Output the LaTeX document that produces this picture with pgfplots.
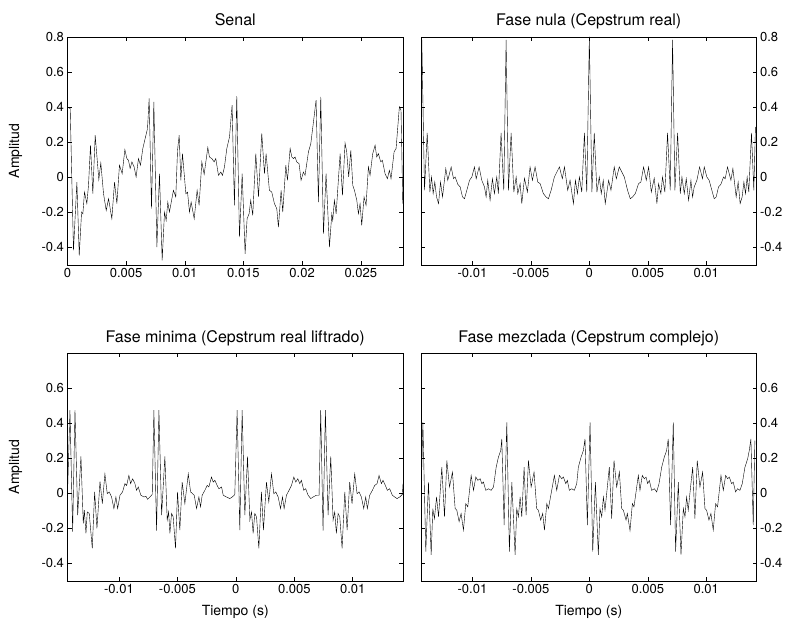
\documentclass[border=0pt]{standalone}
\usepackage{fontspec}
\setmainfont{TeX Gyre Heros}
\usepackage{pgfplots}
\pgfplotsset{compat=1.18}

\pgfplotsset{
  panel/.style={
    scale only axis, width=335.5pt, height=228pt, anchor=south west,
    ymin=-0.5, ymax=0.8,
    tick align=inside, major tick length=4pt,
    axis line style={line width=0.6pt},
    every tick/.style={black, line width=0.5pt},
    tick label style={font=\fontsize{13}{15}\selectfont},
    every axis title/.style={at={(0.5,1)}, anchor=base, yshift=11pt,
      font=\fontsize{16}{18}\selectfont},
    /pgf/number format/assume math mode=true,
    /pgf/number format/fixed, /pgf/number format/precision=3,
    scaled x ticks=false, scaled y ticks=false,
    cycle list={{black, no markers, line width=1pt, line join=round}},
  },
  cep/.style={xmin=-0.0144, xmax=0.0143, xtick={-0.01,-0.005,0,0.005,0.01}},
  ylab/.style={ylabel={Amplitud},
    every axis y label/.style={at={(axis description cs:-0.155,0.5)}, rotate=90,
      anchor=center, font=\fontsize{14}{16}\selectfont}},
  xlab/.style={xlabel={Tiempo (s)},
    every axis x label/.style={at={(axis description cs:0.5,-0.136)},
      anchor=center, font=\fontsize{14}{16}\selectfont}},
}

\begin{document}
\begin{tikzpicture}
\path[use as bounding box] (0,0) rectangle (795pt,625pt);

% --- signal ---
\begin{axis}[panel, ylab, at={(67.5pt,360pt)}, title={Senal},
  xmin=0, xmax=0.0286, xtick={0,0.005,0.01,0.015,0.02,0.025},
  ytick={-0.4,-0.2,0,0.2,0.4,0.6,0.8}]
\addplot table {
t v
0.00000 0.400
0.00023 0.392
0.00051 -0.417
0.00080 -0.027
0.00100 -0.446
0.00120 -0.198
0.00131 -0.208
0.00145 -0.084
0.00165 -0.150
0.00179 -0.046
0.00196 0.183
0.00216 -0.093
0.00236 0.240
0.00267 -0.013
0.00284 0.082
0.00307 -0.093
0.00330 -0.189
0.00350 -0.122
0.00378 -0.236
0.00401 -0.027
0.00421 -0.150
0.00443 0.069
0.00466 0.021
0.00489 0.158
0.00506 0.107
0.00520 0.097
0.00534 0.050
0.00549 0.088
0.00568 0.059
0.00585 0.002
0.00605 0.107
0.00622 0.069
0.00642 0.164
0.00665 0.230
0.00682 0.278
0.00696 0.450
0.00716 -0.179
0.00736 0.430
0.00762 -0.398
0.00784 0.021
0.00807 -0.474
0.00827 -0.198
0.00841 -0.246
0.00855 -0.141
0.00869 -0.198
0.00903 -0.074
0.00923 -0.112
0.00938 0.154
0.00952 0.240
0.00966 -0.017
0.00980 0.135
0.01009 -0.093
0.01023 -0.084
0.01040 -0.198
0.01054 -0.141
0.01080 -0.236
0.01105 -0.074
0.01122 -0.160
0.01145 0.088
0.01165 0.017
0.01196 0.170
0.01210 0.116
0.01230 0.107
0.01250 0.088
0.01264 0.107
0.01287 0.011
0.01307 0.030
0.01321 0.011
0.01338 0.059
0.01358 0.164
0.01381 0.230
0.01403 0.411
0.01423 -0.160
0.01443 0.463
0.01466 -0.341
0.01489 0.021
0.01514 -0.436
0.01531 -0.236
0.01548 -0.208
0.01562 -0.131
0.01579 -0.217
0.01605 0.135
0.01628 -0.112
0.01656 0.250
0.01679 0.021
0.01693 0.135
0.01721 -0.074
0.01741 -0.084
0.01764 -0.150
0.01784 -0.179
0.01798 -0.284
0.01821 -0.074
0.01835 -0.198
0.01861 0.069
0.01875 -0.017
0.01898 0.164
0.01912 0.116
0.01926 0.107
0.01940 0.116
0.01954 0.088
0.01974 0.078
0.01991 -0.017
0.02011 0.030
0.02025 0.011
0.02054 0.145
0.02074 0.192
0.02102 0.345
0.02119 0.440
0.02139 -0.141
0.02159 0.459
0.02182 -0.322
0.02204 0.021
0.02233 -0.398
0.02253 -0.208
0.02261 -0.246
0.02275 -0.131
0.02290 -0.208
0.02324 0.135
0.02344 -0.103
0.02366 0.196
0.02380 0.145
0.02397 0.002
0.02415 0.154
0.02432 -0.046
0.02446 -0.074
0.02466 -0.131
0.02480 -0.208
0.02494 -0.150
0.02508 -0.274
0.02528 -0.112
0.02545 -0.160
0.02565 0.059
0.02579 0.011
0.02602 0.135
0.02622 0.183
0.02636 0.116
0.02650 0.135
0.02670 0.088
0.02684 0.097
0.02707 0.021
0.02727 -0.008
0.02744 0.040
0.02758 -0.008
0.02784 0.145
0.02801 0.164
0.02829 0.402
0.02843 0.383
0.02858 -0.150
};
\end{axis}

% --- zero phase (real cepstrum) ---
\begin{axis}[panel, cep, at={(421pt,360pt)}, title={Fase nula (Cepstrum real)},
  yticklabel pos=right, ytick={-0.4,-0.2,0,0.2,0.4,0.6,0.8}]
\addplot table {
t v
-0.01433 0.783
-0.01410 -0.074
-0.01387 0.253
-0.01364 -0.084
-0.01350 0.002
-0.01336 -0.093
-0.01322 -0.027
-0.01307 -0.112
-0.01290 -0.150
-0.01273 -0.027
-0.01256 -0.112
-0.01228 0.050
-0.01211 -0.017
-0.01182 0.059
-0.01162 -0.008
-0.01148 0.002
-0.01125 -0.040
-0.01105 -0.055
-0.01085 -0.112
-0.01068 -0.122
-0.01048 -0.074
-0.01025 -0.017
-0.01005 0.002
-0.00983 0.059
-0.00968 -0.008
-0.00943 0.059
-0.00920 -0.017
-0.00897 -0.055
-0.00883 -0.112
-0.00869 -0.017
-0.00849 -0.131
-0.00829 -0.008
-0.00812 -0.093
-0.00792 0.002
-0.00778 -0.093
-0.00755 0.253
-0.00732 -0.074
-0.00712 0.783
-0.00692 -0.074
-0.00669 0.253
-0.00646 -0.084
-0.00626 0.002
-0.00612 -0.093
-0.00592 -0.036
-0.00578 -0.150
-0.00555 -0.005
-0.00530 -0.084
-0.00507 0.059
-0.00487 -0.017
-0.00464 0.059
-0.00441 -0.027
-0.00421 -0.036
-0.00393 -0.093
-0.00370 -0.112
-0.00350 -0.122
-0.00327 -0.074
-0.00299 0.002
-0.00256 0.059
-0.00231 -0.008
-0.00213 0.059
-0.00185 -0.074
-0.00165 -0.017
-0.00136 -0.150
-0.00119 -0.017
-0.00102 -0.093
-0.00085 0.002
-0.00065 -0.084
-0.00042 0.253
-0.00022 -0.084
0.00000 0.800
0.00022 -0.084
0.00042 0.253
0.00065 -0.084
0.00085 0.002
0.00102 -0.093
0.00119 -0.017
0.00136 -0.150
0.00165 -0.017
0.00185 -0.074
0.00213 0.059
0.00231 -0.008
0.00256 0.059
0.00299 0.002
0.00327 -0.074
0.00350 -0.122
0.00370 -0.112
0.00393 -0.093
0.00421 -0.036
0.00441 -0.027
0.00464 0.059
0.00487 -0.017
0.00507 0.059
0.00530 -0.084
0.00555 -0.005
0.00578 -0.150
0.00592 -0.036
0.00612 -0.093
0.00626 0.002
0.00646 -0.084
0.00669 0.253
0.00692 -0.074
0.00712 0.783
0.00732 -0.074
0.00755 0.253
0.00778 -0.093
0.00792 0.002
0.00812 -0.093
0.00829 -0.008
0.00849 -0.131
0.00869 -0.017
0.00883 -0.112
0.00897 -0.055
0.00920 -0.017
0.00943 0.059
0.00968 -0.008
0.00983 0.059
0.01005 0.002
0.01025 -0.017
0.01048 -0.074
0.01068 -0.122
0.01085 -0.112
0.01105 -0.055
0.01125 -0.040
0.01148 0.002
0.01162 -0.008
0.01182 0.059
0.01211 -0.017
0.01228 0.050
0.01256 -0.112
0.01273 -0.027
0.01290 -0.150
0.01307 -0.112
0.01322 -0.027
0.01336 -0.093
0.01350 0.002
0.01364 -0.084
0.01387 0.253
0.01407 -0.074
0.01421 0.288
};
\end{axis}

% --- minimum phase ---
\begin{axis}[panel, cep, ylab, xlab, at={(67.5pt,44pt)},
  title={Fase minima (Cepstrum real liftrado)},
  ytick={-0.4,-0.2,0,0.2,0.4,0.6}]
\addplot table {
t v
-0.01439 0.017
-0.01419 0.474
-0.01396 -0.219
-0.01376 0.474
-0.01353 -0.125
-0.01325 0.210
-0.01305 -0.172
-0.01296 -0.096
-0.01282 -0.229
-0.01271 -0.106
-0.01254 -0.115
-0.01228 -0.314
-0.01208 0.008
-0.01188 -0.200
-0.01162 0.068
-0.01142 -0.059
-0.01120 0.111
-0.01100 -0.002
-0.01083 0.008
-0.01063 -0.021
-0.01043 -0.087
-0.01026 -0.021
-0.01011 -0.087
-0.00991 -0.011
-0.00969 0.008
-0.00949 0.055
-0.00934 0.045
-0.00915 0.102
-0.00900 0.055
-0.00883 0.083
-0.00863 0.055
-0.00849 0.017
-0.00835 0.036
-0.00812 -0.011
-0.00786 -0.021
-0.00769 -0.017
-0.00755 -0.034
-0.00735 -0.021
-0.00715 -0.006
-0.00701 0.474
-0.00678 -0.213
-0.00658 0.474
-0.00635 -0.125
-0.00607 0.210
-0.00587 -0.153
-0.00575 -0.106
-0.00564 -0.229
-0.00550 -0.115
-0.00536 -0.134
-0.00516 -0.314
-0.00499 0.008
-0.00479 -0.210
-0.00459 0.064
-0.00436 -0.059
-0.00407 0.111
-0.00387 0.008
-0.00370 -0.002
-0.00356 -0.011
-0.00336 -0.087
-0.00316 -0.021
-0.00302 -0.077
-0.00288 -0.011
-0.00265 0.017
-0.00245 0.045
-0.00231 0.036
-0.00208 0.093
-0.00194 0.064
-0.00179 0.074
-0.00160 0.045
-0.00145 0.026
-0.00122 0.036
-0.00108 -0.011
-0.00080 -0.021
-0.00051 -0.030
-0.00031 -0.021
-0.00009 -0.008
0.00011 0.474
0.00034 -0.210
0.00054 0.474
0.00077 -0.125
0.00100 0.210
0.00120 -0.153
0.00134 -0.106
0.00148 -0.229
0.00162 -0.115
0.00177 -0.134
0.00197 -0.314
0.00219 0.008
0.00236 -0.210
0.00262 0.064
0.00282 -0.049
0.00305 0.111
0.00325 -0.002
0.00342 0.008
0.00362 -0.021
0.00382 -0.087
0.00399 -0.021
0.00413 -0.087
0.00433 -0.011
0.00462 0.026
0.00476 0.045
0.00496 0.093
0.00513 0.064
0.00530 0.083
0.00547 0.055
0.00561 0.074
0.00581 0.017
0.00598 0.026
0.00618 -0.011
0.00641 -0.030
0.00661 -0.021
0.00689 -0.011
0.00712 -0.011
0.00726 0.474
0.00746 -0.213
0.00766 0.474
0.00789 -0.125
0.00812 0.210
0.00832 -0.153
0.00846 -0.106
0.00860 -0.229
0.00875 -0.115
0.00889 -0.134
0.00909 -0.314
0.00932 0.008
0.00952 -0.210
0.00974 0.064
0.00994 -0.059
0.01017 0.111
0.01037 -0.002
0.01054 0.008
0.01074 -0.021
0.01094 -0.087
0.01111 -0.021
0.01125 -0.087
0.01145 -0.011
0.01168 0.017
0.01188 0.045
0.01208 0.055
0.01225 0.102
0.01245 0.055
0.01259 0.074
0.01279 0.045
0.01296 0.017
0.01316 0.026
0.01339 -0.011
0.01359 -0.021
0.01379 -0.030
0.01402 -0.021
0.01425 -0.006
0.01430 0.055
};
\end{axis}

% --- mixed phase (complex cepstrum) ---
\begin{axis}[panel, cep, xlab, at={(421pt,44pt)},
  title={Fase mezclada (Cepstrum complejo)},
  yticklabel pos=right, ytick={-0.4,-0.2,0,0.2,0.4,0.6}]
\addplot table {
t v
-0.01436 0.074
-0.01424 0.404
-0.01399 -0.332
-0.01376 0.064
-0.01353 -0.351
-0.01339 -0.087
-0.01325 -0.144
-0.01307 -0.021
-0.01290 -0.134
-0.01262 0.149
-0.01239 -0.134
-0.01219 0.187
-0.01196 0.036
-0.01171 0.121
-0.01148 -0.087
-0.01134 -0.096
-0.01114 -0.162
-0.01097 -0.115
-0.01077 -0.210
-0.01057 -0.059
-0.01040 -0.077
-0.01011 0.102
-0.00991 0.017
-0.00971 0.093
-0.00954 0.074
-0.00934 0.083
-0.00920 0.055
-0.00906 0.064
-0.00886 0.017
-0.00863 0.026
-0.00840 0.017
-0.00820 0.036
-0.00797 0.149
-0.00778 0.206
-0.00758 0.244
-0.00749 0.310
-0.00729 -0.181
-0.00706 0.404
-0.00684 -0.332
-0.00663 0.064
-0.00635 -0.351
-0.00621 -0.087
-0.00607 -0.134
-0.00592 -0.021
-0.00578 -0.134
-0.00558 0.149
-0.00541 -0.125
-0.00521 0.187
-0.00498 0.036
-0.00473 0.121
-0.00450 -0.087
-0.00436 -0.096
-0.00416 -0.153
-0.00399 -0.115
-0.00384 -0.210
-0.00364 -0.059
-0.00350 -0.087
-0.00299 0.102
-0.00279 0.017
-0.00256 0.102
-0.00236 0.083
-0.00222 0.093
-0.00202 0.055
-0.00188 0.074
-0.00171 0.017
-0.00151 0.026
-0.00128 0.017
-0.00108 0.055
-0.00094 0.149
-0.00071 0.206
-0.00051 0.244
-0.00037 0.310
-0.00017 -0.181
0.00006 0.404
0.00029 -0.332
0.00052 0.064
0.00077 -0.351
0.00091 -0.087
0.00106 -0.134
0.00120 -0.021
0.00134 -0.096
0.00171 0.149
0.00191 -0.144
0.00211 0.187
0.00234 0.036
0.00257 0.121
0.00277 -0.087
0.00291 -0.096
0.00314 -0.153
0.00325 -0.115
0.00348 -0.213
0.00368 -0.059
0.00382 -0.077
0.00419 0.102
0.00433 0.017
0.00453 0.102
0.00470 0.083
0.00485 0.093
0.00499 0.055
0.00513 0.074
0.00533 0.017
0.00556 0.026
0.00576 0.008
0.00596 0.055
0.00619 0.149
0.00641 0.206
0.00661 0.244
0.00675 0.310
0.00695 -0.181
0.00718 0.404
0.00738 -0.332
0.00761 0.064
0.00784 -0.351
0.00804 -0.087
0.00818 -0.134
0.00832 -0.021
0.00846 -0.096
0.00866 0.036
0.00884 0.149
0.00903 -0.144
0.00923 0.187
0.00946 0.036
0.00969 0.121
0.00989 -0.087
0.01003 -0.096
0.01023 -0.153
0.01040 -0.115
0.01060 -0.210
0.01080 -0.059
0.01097 -0.077
0.01126 0.102
0.01146 0.017
0.01166 0.102
0.01183 0.083
0.01197 0.093
0.01217 0.055
0.01231 0.064
0.01251 0.008
0.01268 0.026
0.01288 0.017
0.01308 0.055
0.01331 0.149
0.01354 0.196
0.01368 0.244
0.01382 0.310
0.01402 -0.181
0.01416 0.300
};
\end{axis}
\end{tikzpicture}
\end{document}
